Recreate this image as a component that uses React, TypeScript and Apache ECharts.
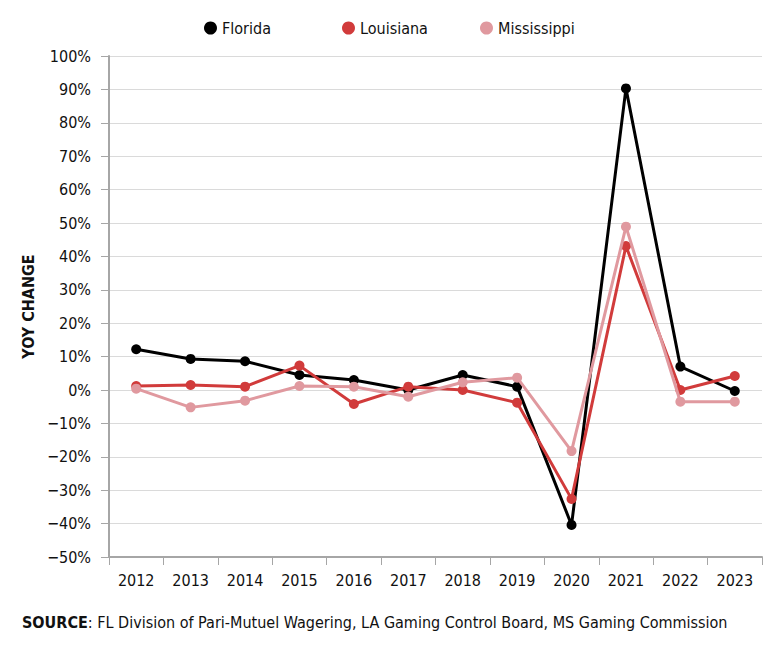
import React, { useEffect, useRef } from "react";
import * as echarts from "echarts";

const years = ["2012", "2013", "2014", "2015", "2016", "2017", "2018", "2019", "2020", "2021", "2022", "2023"];
const florida = [12.2, 9.3, 8.6, 4.5, 3.0, 0.0, 4.5, 1.0, -40.4, 90.3, 7.0, -0.3];
const louisiana = [1.2, 1.5, 1.0, 7.3, -4.2, 1.0, 0.0, -3.8, -32.6, 43.1, 0.0, 4.2];
const mississippi = [0.4, -5.2, -3.2, 1.2, 1.0, -2.0, 2.3, 3.7, -18.3, 48.9, -3.5, -3.5];
const seriesNames = ["Florida", "Louisiana", "Mississippi"];
const seriesColors = ["#000000", "#d13b3b", "#e0999f"];

const FONT = "'DejaVu Sans Condensed', 'DejaVu Sans', sans-serif";
const W = "condensed";

export default function App() {
  const ref = useRef<HTMLDivElement>(null);
  useEffect(() => {
    if (!ref.current) return;
    const chart = echarts.init(ref.current, null, { renderer: "svg" });
    const datasets = [florida, louisiana, mississippi];
    const legendLefts = [199, 337, 475];
    chart.setOption({
      animation: false,
      textStyle: { fontFamily: FONT, fontWeight: W },
      legend: seriesNames.map((n, i) => ({
        data: [n],
        top: 15,
        left: legendLefts[i],
        icon: "circle",
        itemWidth: 13,
        itemHeight: 13,
        itemGap: 5,
        textStyle: { fontFamily: FONT, fontWeight: W, fontSize: 16, color: "#111" },
      })),
      grid: { left: 109, right: 22, top: 56, bottom: 113, containLabel: false },
      xAxis: {
        type: "category",
        data: years,
        boundaryGap: true,
        axisLine: { onZero: false, lineStyle: { color: "#a6a6a6", width: 2 } },
        axisTick: { show: true, length: 8, lineStyle: { color: "#a6a6a6", width: 1 } },
        axisLabel: { fontFamily: FONT, fontWeight: W, fontSize: 16, color: "#111", margin: 15 },
      },
      yAxis: {
        type: "value",
        min: -50,
        max: 100,
        interval: 10,
        name: "YOY CHANGE",
        nameLocation: "middle",
        nameGap: 60,
        nameRotate: 90,
        nameTextStyle: { fontFamily: FONT, fontSize: 16, fontStyle: "condensed", fontWeight: "bold", color: "#111" },
        axisLine: { show: true, lineStyle: { color: "#a6a6a6", width: 2 } },
        axisTick: { show: true, length: 8, lineStyle: { color: "#a6a6a6", width: 1 } },
        axisLabel: {
          fontFamily: FONT,
          fontWeight: W,
          fontSize: 16,
          color: "#111",
          margin: 18,
          formatter: (v: number) => {
            const r = Math.round(v);
            return r < 0 ? "\u2212" + Math.abs(r) + "%" : r + "%";
          },
        },
        splitLine: { lineStyle: { color: "#dadada", width: 1 } },
      },
      series: seriesNames.map((n, i) => ({
        name: n,
        type: "line",
        data: datasets[i],
        symbol: "circle",
        symbolSize: 10,
        lineStyle: { color: seriesColors[i], width: 3 },
        itemStyle: { color: seriesColors[i] },
        z: 2 + i,
      })),
      graphic: [
        {
          type: "text",
          left: 22,
          top: 614,
          style: {
            text: "{b|SOURCE}: FL Division of Pari-Mutuel Wagering, LA Gaming Control Board, MS Gaming Commission",
            fontFamily: FONT,
            fontWeight: W,
            fontSize: 16,
            fill: "#111",
            rich: {
              b: { fontFamily: FONT, fontSize: 16, fontStyle: "condensed", fontWeight: "bold", fill: "#111" },
            },
          },
        },
      ],
    });
    return () => chart.dispose();
  }, []);
  return <div ref={ref} style={{ width: 784, height: 670, margin: -8 }} />;
}
